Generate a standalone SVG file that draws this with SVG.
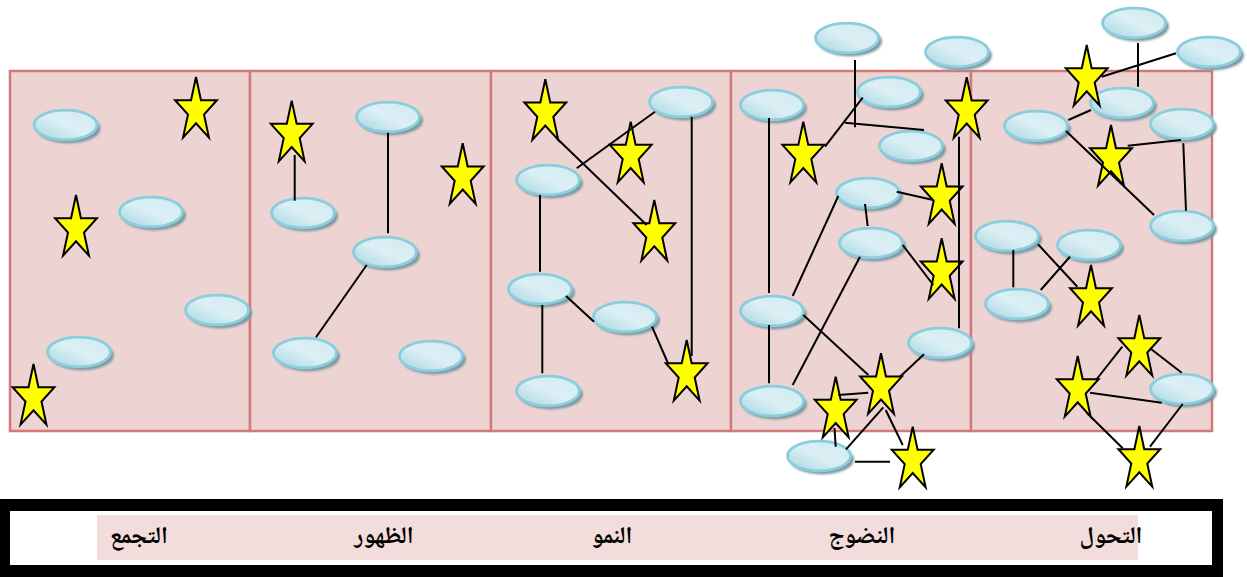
<svg xmlns="http://www.w3.org/2000/svg" width="1247" height="577" viewBox="0 0 1247 577">
  <style>
    .panel { fill: #eed3d3; stroke: #d07b79; stroke-width: 2.5; }
    .link { stroke: #000; stroke-width: 2; fill: none; stroke-linecap: butt; }
    .lbl { font-family: "Noto Naskh Arabic", "Amiri", "DejaVu Sans", "Noto Sans", sans-serif; font-size: 24px; font-weight: bold; fill: #000; text-anchor: middle; }
  </style>
  <defs>
    <linearGradient id="cellFill" x1="0" y1="1" x2="1" y2="0">
      <stop offset="0" stop-color="#a6d4e0"/>
      <stop offset="0.5" stop-color="#dcf0f5"/>
      <stop offset="1" stop-color="#cfe9f0"/>
    </linearGradient>
    <filter id="soft" x="-20%" y="-30%" width="140%" height="160%">
      <feGaussianBlur stdDeviation="1"/>
    </filter>
    <g id="cell">
      <ellipse cx="3" cy="3.5" rx="32" ry="15" fill="#7d9aa2" filter="url(#soft)"/>
      <ellipse cx="0" cy="0" rx="31.5" ry="14.8" fill="url(#cellFill)" stroke="#8acddc" stroke-width="2.8"/>
    </g>
    <path id="star" d="M0,-33.5 L4.94,-10.35 L20.92,-10.35 L7.99,3.96 L12.93,27.1 L0,12.8 L-12.93,27.1 L-7.99,3.96 L-20.92,-10.35 L-4.94,-10.35 Z" fill="#ffff00" stroke="#000" stroke-width="2"/>
  </defs>

  <!-- stage panels -->
  <g id="panels">
    <rect class="panel" x="10" y="71" width="240" height="360"/>
    <rect class="panel" x="250" y="71" width="241" height="360"/>
    <rect class="panel" x="491" y="71" width="240" height="360"/>
    <rect class="panel" x="731" y="71" width="240" height="360"/>
    <rect class="panel" x="971" y="71" width="241" height="360"/>
  </g>

  <!-- cells -->
  <g id="c1"><use href="#cell" x="65.5" y="125"/></g>
  <g id="c2"><use href="#cell" x="151" y="212"/></g>
  <g id="c3"><use href="#cell" x="217" y="310"/></g>
  <g id="c4"><use href="#cell" x="79" y="352"/></g>

  <g id="c5"><use href="#cell" x="303" y="213"/></g>
  <g id="c6"><use href="#cell" x="388" y="117"/></g>
  <g id="c7"><use href="#cell" x="385" y="252"/></g>
  <g id="c8"><use href="#cell" x="305" y="353"/></g>
  <g id="c9"><use href="#cell" x="431" y="356"/></g>

  <g id="c10"><use href="#cell" x="681" y="102"/></g>
  <g id="c11"><use href="#cell" x="548" y="180"/></g>
  <g id="c12"><use href="#cell" x="540" y="289"/></g>
  <g id="c13"><use href="#cell" x="625" y="317"/></g>
  <g id="c14"><use href="#cell" x="548" y="391"/></g>

  <g id="c15"><use href="#cell" x="847" y="38"/></g>
  <g id="c16"><use href="#cell" x="957" y="52"/></g>
  <g id="c17"><use href="#cell" x="889" y="92"/></g>
  <g id="c18"><use href="#cell" x="772" y="105"/></g>
  <g id="c19"><use href="#cell" x="911" y="146"/></g>
  <g id="c20"><use href="#cell" x="868" y="193"/></g>
  <g id="c21"><use href="#cell" x="871" y="243"/></g>
  <g id="c22"><use href="#cell" x="772" y="311"/></g>
  <g id="c23"><use href="#cell" x="940" y="343"/></g>
  <g id="c24"><use href="#cell" x="772" y="401"/></g>
  <g id="c25"><use href="#cell" x="819" y="456"/></g>

  <g id="c26"><use href="#cell" x="1134" y="23"/></g>
  <g id="c27"><use href="#cell" x="1209" y="52"/></g>
  <g id="c28"><use href="#cell" x="1122" y="103"/></g>
  <g id="c29"><use href="#cell" x="1036" y="126"/></g>
  <g id="c30"><use href="#cell" x="1182" y="124"/></g>
  <g id="c31"><use href="#cell" x="1182" y="226"/></g>
  <g id="c32"><use href="#cell" x="1007" y="236"/></g>
  <g id="c33"><use href="#cell" x="1017" y="304"/></g>
  <g id="c34"><use href="#cell" x="1089" y="245"/></g>
  <g id="c35"><use href="#cell" x="1182" y="389"/></g>

  <!-- stars -->
  <g id="s1"><use href="#star" x="196" y="110.5"/></g>
  <g id="s2"><use href="#star" x="76" y="228.5"/></g>
  <g id="s3"><use href="#star" x="33.5" y="397.5"/></g>

  <g id="s4"><use href="#star" x="291.7" y="134.2"/></g>
  <g id="s5"><use href="#star" x="462.7" y="176.8"/></g>

  <g id="s6"><use href="#star" x="545.3" y="112.8"/></g>
  <g id="s7"><use href="#star" x="630.7" y="155.2"/></g>
  <g id="s8"><use href="#star" x="654.3" y="233.5"/></g>
  <g id="s9"><use href="#star" x="686.7" y="373.5"/></g>

  <g id="s10"><use href="#star" x="803.3" y="155.2"/></g>
  <g id="s11"><use href="#star" x="966.7" y="110.8"/></g>
  <g id="s12"><use href="#star" x="941.7" y="196.8"/></g>
  <g id="s13"><use href="#star" x="941.7" y="271.8"/></g>
  <g id="s14"><use href="#star" x="881" y="386.8"/></g>
  <g id="s15"><use href="#star" x="835.7" y="410.2"/></g>
  <g id="s16"><use href="#star" x="912.7" y="460.2"/></g>

  <g id="s17"><use href="#star" x="1086.7" y="78.5"/></g>
  <g id="s18"><use href="#star" x="1111" y="158.5"/></g>
  <g id="s19"><use href="#star" x="1091" y="298.5"/></g>
  <g id="s20"><use href="#star" x="1139.3" y="348.5"/></g>
  <g id="s21"><use href="#star" x="1077.7" y="389.5"/></g>
  <g id="s22"><use href="#star" x="1139.3" y="459.5"/></g>

  <!-- connectors -->
  <g id="connectors" class="link">
    <line x1="294.7" y1="155" x2="294.7" y2="200.7"/>
    <line x1="388" y1="132.7" x2="388" y2="233.3"/>
    <line x1="366.7" y1="265" x2="316" y2="337.3"/>

    <line x1="655" y1="111.7" x2="576.7" y2="168.3"/>
    <line x1="556.7" y1="138.3" x2="646.7" y2="225"/>
    <line x1="540" y1="195" x2="540" y2="271.7"/>
    <line x1="566" y1="296" x2="594" y2="321.7"/>
    <line x1="652" y1="326.7" x2="668.3" y2="364"/>
    <line x1="691.7" y1="116.7" x2="691.7" y2="356"/>
    <line x1="542.3" y1="305" x2="542.3" y2="373.3"/>

    <line x1="855" y1="60" x2="855" y2="127.3"/>
    <line x1="862.7" y1="97.7" x2="825" y2="146.7"/>
    <line x1="769" y1="118" x2="769" y2="293"/>
    <line x1="845" y1="122.7" x2="924" y2="130"/>
    <line x1="959" y1="136.7" x2="959" y2="328.3"/>
    <line x1="896.7" y1="191.7" x2="933.3" y2="200"/>
    <line x1="865" y1="204" x2="867.7" y2="226"/>
    <line x1="902.7" y1="245" x2="933.3" y2="285"/>
    <line x1="838.3" y1="196" x2="792.7" y2="296"/>
    <line x1="803.3" y1="315" x2="868.3" y2="375"/>
    <line x1="860" y1="256.7" x2="792.7" y2="385"/>
    <line x1="924" y1="354.3" x2="900" y2="376.7"/>
    <line x1="769" y1="325" x2="769" y2="383.3"/>
    <line x1="838.3" y1="395" x2="868.3" y2="392.7"/>
    <line x1="834.5" y1="428" x2="835.7" y2="446.7"/>
    <line x1="846" y1="449.3" x2="883.3" y2="407.3"/>
    <line x1="855" y1="461.7" x2="890" y2="461.7"/>
    <line x1="885.7" y1="410" x2="902.7" y2="445"/>

    <line x1="1138" y1="43" x2="1138" y2="86.7"/>
    <line x1="1176" y1="53.3" x2="1101.7" y2="76.7"/>
    <line x1="1091" y1="110" x2="1068.3" y2="120"/>
    <line x1="1066" y1="131" x2="1154" y2="215"/>
    <line x1="1127.7" y1="145.7" x2="1181" y2="140"/>
    <line x1="1183.3" y1="143.3" x2="1186" y2="210.7"/>
    <line x1="1013.3" y1="250" x2="1013.3" y2="287.3"/>
    <line x1="1070" y1="256.7" x2="1040.7" y2="290"/>
    <line x1="1038" y1="244.3" x2="1077.3" y2="286.7"/>
    <line x1="1122.3" y1="346.7" x2="1096" y2="380"/>
    <line x1="1150" y1="348.3" x2="1181.7" y2="372.7"/>
    <line x1="1090" y1="392.7" x2="1161.7" y2="402.7"/>
    <line x1="1086.7" y1="412.7" x2="1122.7" y2="448.3"/>
    <line x1="1182.7" y1="404" x2="1150" y2="446.7"/>
  </g>

  <!-- stage label bar -->
  <g id="labels">
    <rect x="0" y="499" width="1223" height="78" fill="#000"/>
    <rect x="10" y="511" width="1202" height="54" fill="#fff"/>
    <rect x="97" y="515" width="1041" height="45" fill="#f2dcdc"/>
    <text class="lbl" x="139" y="543">التجمع</text>
    <text class="lbl" x="384" y="543">الظهور</text>
    <text class="lbl" x="612" y="543">النمو</text>
    <text class="lbl" x="862" y="543">النضوج</text>
    <text class="lbl" x="1111" y="543">التحول</text>
  </g>
</svg>
